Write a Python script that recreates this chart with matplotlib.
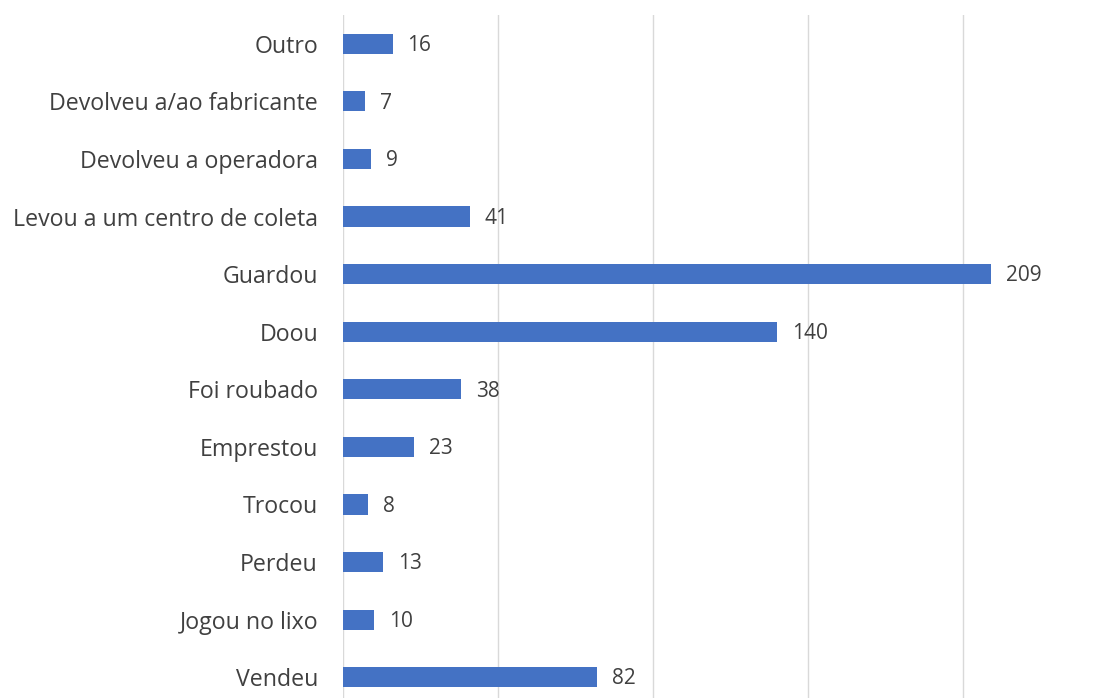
import matplotlib
matplotlib.use("Agg")
import matplotlib.pyplot as plt

categories = ["Outro", "Devolveu a/ao fabricante", "Devolveu a operadora",
              "Levou a um centro de coleta", "Guardou", "Doou", "Foi roubado",
              "Emprestou", "Trocou", "Perdeu", "Jogou no lixo", "Vendeu"]
values = [16, 7, 9, 41, 209, 140, 38, 23, 8, 13, 10, 82]
grid_ticks = [0, 50, 100, 150, 200]

plt.rcParams['font.family'] = ['Open Sans', 'DejaVu Sans']
fig = plt.figure(figsize=(11.04, 6.98), dpi=100)
ax = fig.add_axes([343/1104, -8/698, 1 - 343/1104, 691/698])

pos = list(range(len(categories)))
ax.barh(pos, values, height=0.35, color="#4472C4", zorder=3)
ax.set_ylim(len(categories) - 0.5, -0.5)
ax.set_xlim(0, 245.5)
ax.set_xticks(grid_ticks)
ax.set_xticklabels([])
ax.tick_params(axis='x', length=0)
ax.tick_params(axis='y', length=0, pad=18, labelsize=16.7, labelcolor="#404040")
ax.set_yticks(pos)
ax.set_yticklabels(categories)
ax.grid(axis='x', color="#d9d9d9", linewidth=1, zorder=0)
for s in ax.spines.values():
    s.set_visible(False)
for p, v in zip(pos, values):
    ax.text(v + 4.8, p + 0.03, str(v), va='center', ha='left', fontsize=15, color="#404040")

fig.savefig("out.png", dpi=100)
